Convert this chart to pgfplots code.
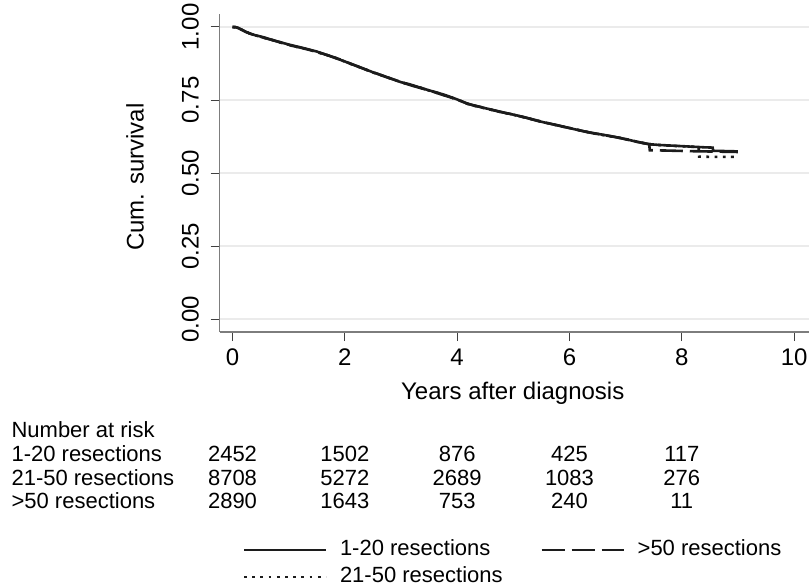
\documentclass[border=0pt]{standalone}
\usepackage{fontspec}
\setmainfont{Liberation Sans}
\usepackage{pgfplots}
\pgfplotsset{compat=1.18}
\definecolor{gridc}{RGB}{235,235,235}
\definecolor{axc}{RGB}{125,125,125}
\definecolor{curve}{RGB}{28,28,28}
\newcommand{\tf}{\fontsize{24}{28}\selectfont}
\newcommand{\rf}{\fontsize{22}{26}\selectfont}

\pgfplotstableread{
t s
0 1.000
0.05 1.000
0.10 0.997
0.15 0.992
0.20 0.987
0.30 0.978
0.40 0.972
0.55 0.965
0.70 0.956
0.85 0.948
1.00 0.940
1.15 0.933
1.30 0.926
1.50 0.916
1.65 0.906
1.80 0.896
2.00 0.882
2.15 0.871
2.30 0.860
2.50 0.845
2.65 0.835
2.80 0.825
3.00 0.811
3.15 0.804
3.30 0.795
3.50 0.783
3.65 0.775
3.80 0.766
4.00 0.752
4.15 0.740
4.30 0.731
4.50 0.722
4.70 0.713
4.85 0.706
5.00 0.700
5.20 0.691
5.40 0.680
5.60 0.671
5.80 0.663
6.00 0.654
6.20 0.645
6.40 0.637
6.60 0.631
6.80 0.624
7.00 0.616
7.20 0.607
7.40 0.599
7.60 0.596
7.80 0.594
8.00 0.592
8.20 0.590
8.40 0.588
8.55 0.587
8.56 0.576
8.80 0.575
9.00 0.574
}\lowtab

\pgfplotstableread{
t s
0 1.000
0.06 0.999
0.12 0.995
0.18 0.989
0.25 0.982
0.35 0.975
0.45 0.969
0.60 0.961
0.75 0.953
0.90 0.944
1.05 0.936
1.20 0.930
1.40 0.920
1.55 0.912
1.70 0.903
1.90 0.890
2.05 0.878
2.20 0.867
2.40 0.852
2.55 0.842
2.70 0.831
2.90 0.818
3.05 0.808
3.20 0.799
3.40 0.788
3.55 0.780
3.70 0.770
3.90 0.758
4.05 0.748
4.20 0.736
4.40 0.727
4.60 0.717
4.75 0.710
4.95 0.702
5.10 0.695
5.30 0.686
5.50 0.676
5.70 0.667
5.90 0.658
6.10 0.650
6.30 0.641
6.50 0.634
6.70 0.627
6.90 0.620
7.10 0.611
7.30 0.603
7.42 0.599
7.43 0.578
7.70 0.577
7.90 0.576
8.10 0.575
8.40 0.574
8.70 0.573
9.00 0.572
}\hightab

\pgfplotstableread{
t s
0 1.000
0.08 0.998
0.14 0.993
0.22 0.985
0.32 0.977
0.42 0.971
0.58 0.962
0.72 0.955
0.88 0.946
1.02 0.938
1.18 0.930
1.35 0.923
1.52 0.913
1.70 0.903
1.85 0.893
2.02 0.880
2.18 0.868
2.35 0.856
2.52 0.843
2.68 0.833
2.85 0.821
3.02 0.810
3.18 0.801
3.35 0.792
3.52 0.781
3.68 0.772
3.85 0.762
4.02 0.750
4.18 0.737
4.35 0.728
4.55 0.719
4.72 0.711
4.90 0.704
5.05 0.697
5.25 0.688
5.45 0.678
5.65 0.669
5.85 0.660
6.05 0.652
6.25 0.643
6.45 0.635
6.65 0.628
6.85 0.622
7.05 0.614
7.25 0.605
7.45 0.598
7.65 0.595
7.85 0.593
8.05 0.591
8.30 0.589
8.31 0.556
8.60 0.555
9.00 0.555
}\midtab

\begin{document}
\begin{tikzpicture}
\begin{axis}[
  scale only axis, width=589pt, height=318pt,
  xmin=-0.23, xmax=10.258, ymin=-0.0445, ymax=1.0445,
  axis lines*=left, axis line style={axc, line width=1.4pt, -},
  tick align=outside, major tick length=9pt,
  tick style={black!75, line width=1pt},
  xtick={0,2,...,10}, ytick={0,0.25,0.5,0.75,1},
  ymajorgrids, grid style={gridc, line width=1.6pt},
  /pgf/number format/assume math mode=true,
  ticklabel style={font=\tf},
  yticklabel style={/pgf/number format/fixed, /pgf/number format/fixed zerofill, /pgf/number format/precision=2, xshift=-12pt, rotate=90, anchor=base},
  xticklabel style={anchor=base, yshift=-24pt},
  every axis x label/.style={at={(axis cs:4.99,-0.274)}, anchor=base, font=\tf},
  every axis y label/.style={at={(axis cs:-1.585,0.486)}, rotate=90, anchor=base, font=\tf},
  xlabel={Years after diagnosis}, ylabel={Cum. survival},
  clip=false,
  legend style={draw=none, fill=none, inner sep=0pt, outer sep=0pt,
    at={(axis cs:0.187,-0.7534)}, anchor=north west, legend columns=2,
    font=\rf, nodes={inner sep=0pt, text height=16pt, text depth=5pt},
    row sep=6pt,
    /tikz/every odd column/.append style={column sep=13pt},
    /tikz/every even column/.append style={column sep=38pt}},
  legend cell align=left,
  legend image code/.code={\draw[#1, line width=2pt] (0pt,0pt) -- (82pt,0pt);},
]
\addplot[curve, line width=2.6pt, solid] table[x=t, y=s] {\lowtab};
\addlegendentry{1-20 resections}
\addplot[curve, line width=2.6pt, dash pattern=on 23pt off 7pt] table[x=t, y=s] {\hightab};
\addlegendentry{>50 resections}
\addplot[curve, line width=2.6pt, dash pattern=on 2.8pt off 5.4pt] table[x=t, y=s] {\midtab};
\addlegendentry{21-50 resections}

\coordinate (bl) at (rel axis cs:0,0);

\node[anchor=base west, font=\rf] at (axis cs:-3.997,-0.4058) {Number at risk};
\node[anchor=base west, font=\rf] at (axis cs:-3.997,-0.4863) {1-20 resections};
\node[anchor=base west, font=\rf] at (axis cs:-3.997,-0.5685) {21-50 resections};
\node[anchor=base west, font=\rf] at (axis cs:-3.997,-0.6490) {>50 resections};

\node[anchor=base, font=\rf] at (axis cs:0,-0.4863) {2452};
\node[anchor=base, font=\rf] at (axis cs:2,-0.4863) {1502};
\node[anchor=base, font=\rf] at (axis cs:4,-0.4863) {876};
\node[anchor=base, font=\rf] at (axis cs:6,-0.4863) {425};
\node[anchor=base, font=\rf] at (axis cs:8,-0.4863) {117};

\node[anchor=base, font=\rf] at (axis cs:0,-0.5685) {8708};
\node[anchor=base, font=\rf] at (axis cs:2,-0.5685) {5272};
\node[anchor=base, font=\rf] at (axis cs:4,-0.5685) {2689};
\node[anchor=base, font=\rf] at (axis cs:6,-0.5685) {1083};
\node[anchor=base, font=\rf] at (axis cs:8,-0.5685) {276};

\node[anchor=base, font=\rf] at (axis cs:0,-0.6490) {2890};
\node[anchor=base, font=\rf] at (axis cs:2,-0.6490) {1643};
\node[anchor=base, font=\rf] at (axis cs:4,-0.6490) {753};
\node[anchor=base, font=\rf] at (axis cs:6,-0.6490) {240};
\node[anchor=base, font=\rf] at (axis cs:8,-0.6490) {11};
\end{axis}
\pgfresetboundingbox
\path ([shift={(-219.6pt,-255pt)}]bl) rectangle ([shift={(589.4pt,332pt)}]bl);
\end{tikzpicture}
\end{document}
